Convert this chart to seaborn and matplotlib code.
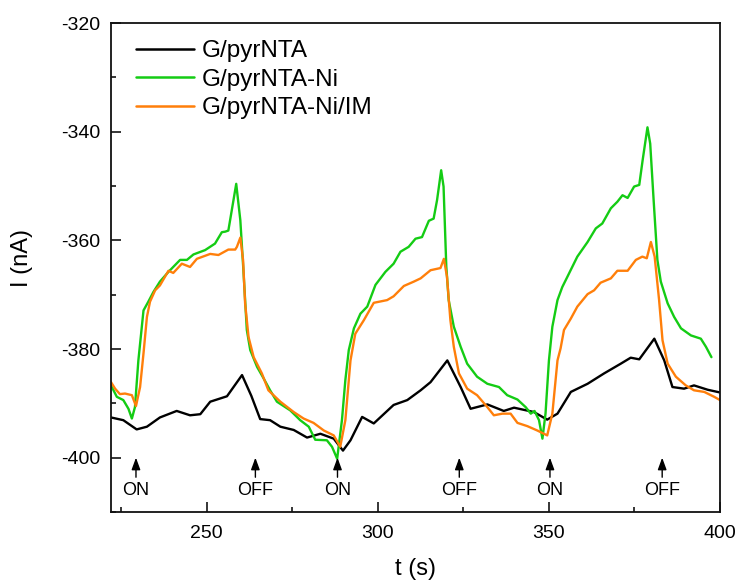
import matplotlib
matplotlib.use("Agg")
import matplotlib.pyplot as plt
import seaborn as sns
import pandas as pd

# ---------------- data ----------------
t_black = [222.0, 225.6, 229.5, 232.5, 236.3, 241.2, 245.1, 248.1, 251.0, 255.9, 260.3, 263.0, 265.6, 268.5,
           271.5, 275.4, 279.3, 283.2, 287.1, 289.8, 292.0, 295.4, 298.8, 304.6, 308.6, 312.5, 315.4, 320.3,
           324.2, 327.1, 332.0, 336.8, 339.8, 345.6, 349.5, 352.5, 356.4, 361.3, 366.1, 371.0, 373.9, 376.4,
           380.8, 383.7, 386.1, 389.5, 392.4, 396.4, 400.0]
i_black = [-392.6, -393.1, -394.8, -394.3, -392.6, -391.4, -392.2, -392.0, -389.7, -388.7, -384.8, -388.6, -392.9, -393.1,
           -394.3, -394.9, -396.3, -395.6, -396.5, -398.7, -396.8, -392.5, -393.7, -390.3, -389.4, -387.6, -386.1, -382.1,
           -387.0, -391.0, -390.2, -391.4, -390.8, -391.6, -393.0, -391.9, -387.9, -386.4, -384.5, -382.7, -381.6, -381.9,
           -378.1, -382.1, -387.0, -387.3, -386.7, -387.5, -388.0]

t_green = [222.0, 223.7, 225.6, 227.1, 228.1, 229.0, 230.0, 231.5, 232.9, 234.4, 236.3, 238.8, 242.2, 244.2,
           246.1, 249.5, 252.4, 254.4, 255.4, 256.3, 257.8, 258.6, 259.8, 260.7, 261.7, 262.7, 264.7, 266.6,
           268.5, 270.5, 274.4, 277.3, 279.8, 281.7, 285.1, 286.6, 288.1, 289.5, 290.5, 291.5, 293.0, 294.9,
           296.9, 299.3, 302.2, 304.6, 306.6, 309.0, 311.0, 312.9, 314.9, 316.3, 317.3, 318.5, 319.2, 320.0,
           320.7, 322.2, 324.2, 326.1, 329.0, 332.0, 335.4, 337.8, 340.8, 343.2, 344.7, 345.8, 347.1, 348.1,
           349.0, 350.0, 351.0, 352.5, 353.9, 355.4, 358.3, 361.3, 363.7, 365.6, 368.1, 370.0, 371.5, 373.0,
           374.9, 376.4, 377.4, 378.8, 379.6, 380.6, 381.7, 382.7, 384.7, 386.6, 388.6, 391.5, 394.4, 395.9, 397.5]
i_green = [-386.7, -388.8, -389.4, -391.0, -392.8, -390.7, -382.1, -372.9, -371.3, -369.5, -367.6, -365.8, -363.6, -363.6,
           -362.6, -361.8, -360.6, -358.5, -358.4, -358.2, -352.6, -349.6, -356.3, -365.5, -376.5, -380.2, -383.3, -385.4,
           -387.6, -389.7, -391.3, -393.1, -394.3, -396.7, -396.8, -398.0, -400.2, -393.1, -385.7, -380.2, -376.2, -373.5,
           -372.2, -368.2, -365.8, -364.3, -362.1, -361.2, -359.7, -359.4, -356.4, -356.0, -352.6, -347.1, -350.1, -364.8,
           -371.0, -375.9, -379.6, -382.7, -385.1, -386.4, -387.0, -388.5, -389.3, -390.7, -391.9, -391.4, -393.1, -396.5,
           -391.9, -382.1, -375.9, -371.0, -368.6, -366.7, -363.0, -360.3, -357.8, -356.9, -354.1, -352.9, -351.7, -352.2,
           -350.1, -349.8, -345.2, -339.2, -342.2, -352.6, -363.6, -367.6, -371.6, -374.1, -376.2, -377.5, -378.1, -379.6, -381.5]

t_orange = [222.0, 223.2, 224.6, 226.1, 228.1, 229.3, 230.5, 231.5, 232.5, 233.4, 234.9, 236.3, 238.8, 240.2,
            242.7, 245.1, 247.1, 251.0, 253.4, 256.3, 258.3, 258.8, 259.8, 260.6, 261.2, 262.2, 263.7, 266.1,
            268.0, 271.5, 275.4, 278.3, 281.2, 284.2, 287.1, 289.0, 290.5, 292.0, 293.4, 295.9, 298.8, 302.7,
            304.6, 307.6, 310.5, 312.5, 315.4, 318.3, 319.3, 320.2, 321.2, 322.2, 323.7, 326.1, 329.0, 332.0,
            333.9, 336.4, 338.8, 340.8, 343.7, 346.6, 349.5, 351.0, 352.5, 353.4, 354.4, 356.4, 358.3, 361.3,
            363.2, 365.1, 368.1, 370.0, 373.0, 375.4, 377.3, 378.6, 379.8, 380.9, 382.2, 383.2, 384.7, 387.1,
            390.0, 392.4, 395.4, 398.3, 400.0]
i_orange = [-386.1, -387.3, -388.3, -388.2, -388.5, -390.5, -387.0, -380.8, -374.1, -371.3, -369.2, -368.3, -365.6, -366.0,
            -364.3, -364.9, -363.4, -362.5, -362.7, -361.7, -361.7, -361.2, -359.5, -363.6, -371.6, -377.8, -381.5, -384.5,
            -387.6, -389.7, -391.6, -392.8, -393.6, -395.0, -395.9, -398.0, -393.1, -382.1, -377.2, -374.7, -371.5, -371.0,
            -370.3, -368.4, -367.6, -367.0, -365.5, -365.1, -363.4, -366.7, -374.7, -379.6, -384.5, -387.3, -388.5, -390.7,
            -392.2, -391.9, -391.9, -393.6, -394.2, -395.0, -395.9, -391.9, -382.1, -379.9, -376.5, -374.4, -372.2, -369.9,
            -369.2, -367.8, -367.0, -365.6, -365.6, -363.6, -363.0, -363.3, -360.3, -363.0, -371.0, -378.4, -382.7, -385.1,
            -386.7, -387.6, -387.9, -388.8, -389.4]

series_names = ["G/pyrNTA", "G/pyrNTA-Ni", "G/pyrNTA-Ni/IM"]
event_t = [229.3, 264.2, 288.2, 323.8, 350.3, 383.1]
event_labels = ["ON", "OFF", "ON", "OFF", "ON", "OFF"]
x_ticks = [250, 300, 350, 400]
y_ticks = [-400, -380, -360, -340, -320]

# ---------------- style ----------------
sns.set_style("ticks")
plt.rcParams["font.family"] = ["Liberation Sans", "DejaVu Sans"]
plt.rcParams["axes.unicode_minus"] = False
plt.rcParams["text.color"] = "black"
plt.rcParams["axes.labelcolor"] = "black"
plt.rcParams["xtick.color"] = "black"
plt.rcParams["ytick.color"] = "black"

colors = ["#000000", "#14cc14", "#ff7f0a"]

fig = plt.figure(figsize=(7.39, 5.83), dpi=100)
ax = fig.add_axes([111 / 739, 1 - 512 / 583, 609 / 739, 489 / 583])

frames = [
    pd.DataFrame({"t": t_black, "I": i_black}),
    pd.DataFrame({"t": t_green, "I": i_green}),
    pd.DataFrame({"t": t_orange, "I": i_orange}),
]
for df, name, c in zip(frames, series_names, colors):
    sns.lineplot(data=df, x="t", y="I", ax=ax, color=c, lw=1.7, label=name,
                 estimator=None, sort=True)

ax.set_xlim(222, 400)
ax.set_ylim(-410, -320)
ax.set_xticks(x_ticks)
ax.set_yticks(y_ticks)
ax.set_xticks([225, 275, 325, 375], minor=True)
ax.set_yticks([-410, -390, -370, -350, -330], minor=True)
ax.tick_params(axis="both", which="major", direction="in", length=7, width=1.1,
               labelsize=14, top=False, right=False, colors="black")
ax.tick_params(axis="both", which="minor", direction="in", length=3.5, width=1.1,
               top=False, right=False, colors="black")
ax.tick_params(axis="x", which="major", pad=9)
ax.tick_params(axis="y", which="major", pad=8)
for s in ax.spines.values():
    s.set_linewidth(1.3)
    s.set_color("#111111")

ax.set_xlabel("t (s)", fontsize=17, labelpad=12, color="black")
ax.set_ylabel("I (nA)", fontsize=17, color="black")
ax.yaxis.set_label_coords(-0.128, 0.52)

# ON / OFF markers
for x, lab in zip(event_t, event_labels):
    ax.annotate("", xy=(x, -400.0), xytext=(x, -403.6),
                arrowprops=dict(arrowstyle="-|>,head_length=0.6,head_width=0.22",
                                color="black", lw=1.0, shrinkA=0, shrinkB=0,
                                mutation_scale=12))
    ax.text(x, -406.0, lab, ha="center", va="center", fontsize=13, color="black")

leg = ax.legend(loc="upper left", bbox_to_anchor=(136 / 739, 1 - 40 / 583),
                bbox_transform=fig.transFigure, frameon=False, fontsize=17.5,
                handlelength=2.4, handletextpad=0.3, labelspacing=0.27,
                borderpad=0, borderaxespad=0)
for text in leg.get_texts():
    text.set_color("black")
for line in leg.get_lines():
    line.set_linewidth(1.8)

fig.savefig("out.png", dpi=100)
